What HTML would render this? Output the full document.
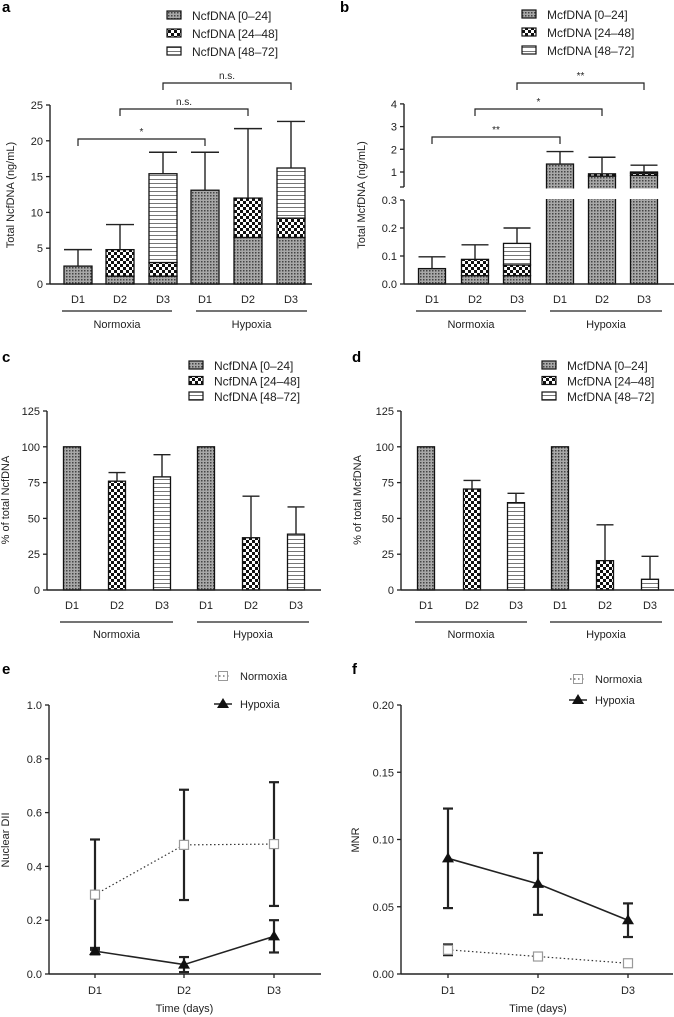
<!DOCTYPE html>
<html><head><meta charset="utf-8"><style>
html,body{margin:0;padding:0;background:#fff;}
svg{display:block;font-family:"Liberation Sans",Arial,sans-serif;}
</style></head><body>
<svg id="fig" width="674" height="1017" viewBox="0 0 674 1017" xmlns="http://www.w3.org/2000/svg">
<defs>
<pattern id="dots" width="3" height="3" patternUnits="userSpaceOnUse"><rect width="3" height="3" fill="#a8a8a8"/><rect width="1.5" height="1.5" fill="#444"/></pattern>
<pattern id="check" width="6" height="6" patternUnits="userSpaceOnUse"><rect width="6" height="6" fill="#fff"/><rect width="3" height="3" fill="#111"/><rect x="3" y="3" width="3" height="3" fill="#111"/></pattern>
<pattern id="lines" width="4" height="4" patternUnits="userSpaceOnUse"><rect width="4" height="4" fill="#fff"/><rect y="3" width="4" height="1" fill="#777"/></pattern>
</defs>
</svg>
<script>
// ---- data ----
const days = ['D1','D2','D3','D1','D2','D3'];
const groups = ['Normoxia','Hypoxia'];
const aSeg0 = [2.5,1.1,1.1,13.1,6.5,6.5];
const aSeg1 = [0,3.7,1.9,0,5.5,2.7];
const aSeg2 = [0,0,12.4,0,0,7.0];
const aErr = [4.8,8.3,18.4,18.4,21.7,22.7];
const aTicks = [0,5,10,15,20,25];
const bSeg0 = [0.055,0.03,0.03,1.35,0.82,0.85];
const bSeg1 = [0,0.058,0.038,0,0.1,0.1];
const bSeg2 = [0,0,0.077,0,0,0.05];
const bErr = [0.097,0.14,0.2,1.9,1.65,1.3];
const bTicksLow = [0.0,0.1,0.2,0.3];
const bTicksHigh = [1,2,3,4];
const cVal = [100,76,79,100,36.5,39];
const cErr = [100,82,94.5,100,65.5,58];
const dVal = [100,70.5,61,100,20.5,7.5];
const dErr = [100,76.5,67.5,100,45.5,23.5];
const pctTicks = [0,25,50,75,100,125];
const pctPat = ['dots','check','lines','dots','check','lines'];
const lineDays = ['D1','D2','D3'];
const eNorm = [0.295,0.48,0.483];
const eNormErr = [0.205,0.205,0.23];
const eHyp = [0.085,0.035,0.14];
const eHypErr = [0.012,0.028,0.06];
const eTicks = [0.0,0.2,0.4,0.6,0.8,1.0];
const fNorm = [0.018,0.013,0.008];
const fNormErr = [0.004,0.001,0.001];
const fHyp = [0.086,0.067,0.04];
const fHypErr = [0.037,0.023,0.0125];
const fTicks = [0.00,0.05,0.10,0.15,0.20];

const NS='http://www.w3.org/2000/svg';
const svg=document.getElementById('fig');
function mk(tag,attrs,parent){const e=document.createElementNS(NS,tag);for(const k in attrs)e.setAttribute(k,attrs[k]);(parent||svg).appendChild(e);return e;}
function txt(s,x,y,size,anchor,parent,extra){const t=mk('text',Object.assign({x:x,y:y,'font-size':size,'text-anchor':anchor||'middle',fill:'#222'},extra||{}),parent);t.textContent=s;return t;}

function panelLabel(p,s,x,y){const t=txt(s,x,y,15,'start',p,{'font-weight':'bold',fill:'#000'});

}

function legendBars(p,x,y0,dy,prefix){
  const pats=['dots','check','lines'],labs=['[0–24]','[24–48]','[48–72]'];
  for(let i=0;i<3;i++){
    const g=mk('g',{},p);
    
    
    mk('rect',{x:x,y:y0+i*dy-9,width:14,height:8,fill:'url(#'+pats[i]+')',stroke:'#111','stroke-width':1.2},g);
    txt(prefix+' '+labs[i],x+25,y0+i*dy,12,'start',g);
  }
}

function yAxis(p,x,ticks,yf,fmt){
  const ax=mk('g',{},p);
  
  
  for(const t of ticks){const y=yf(t);
    mk('line',{x1:x-4,x2:x,y1:y,y2:y,stroke:'#222','stroke-width':1.3},ax);
    const l=txt(fmt(t),x-7,y+4,11,'end',ax);
    
    }
  return ax;
}

function groupAxis(p,xs,yTick,lineY,labY,nLine,hLine){
  for(let i=0;i<xs.length;i++){const l=txt(days[i],xs[i],yTick,11,'middle',p);
    
    }
  const ranges=[nLine,hLine];
  for(let g=0;g<2;g++){
    const ln=mk('line',{x1:ranges[g][0],x2:ranges[g][1],y1:lineY,y2:lineY,stroke:'#222','stroke-width':1.2},p);
    
    
    const t=txt(groups[g],(ranges[g][0]+ranges[g][1])/2,labY,11,'middle',p);
    
    
  }
}

function errBar(p,x,yTop,yEnd,cap){
  const g=mk('g',{},p);
  
  
  mk('line',{x1:x,x2:x,y1:yTop,y2:yEnd,stroke:'#222','stroke-width':1.4},g);
  mk('line',{x1:x-cap,x2:x+cap,y1:yEnd,y2:yEnd,stroke:'#222','stroke-width':1.4},g);
}

function bracket(p,x1,x2,y,label){
  const g=mk('g',{},p);
  
  
  mk('path',{d:`M${x1},${y+7}V${y}H${x2}V${y+7}`,fill:'none',stroke:'#222','stroke-width':1.2},g);
  txt(label,(x1+x2)/2,y-4,10,'middle',g);
}

function stackPanel(p,xs,w,yf,segs,err,namePrefix){
  const pats=['dots','check','lines'];
  for(let i=0;i<xs.length;i++){
    let base=0;
    for(let s=0;s<3;s++){
      const v=segs[s][i]; if(v<=0) continue;
      const yA=yf(base+v), yB=yf(base);
      const r=mk('rect',{x:xs[i]-w/2,y:yA,width:w,height:yB-yA,fill:'url(#'+pats[s]+')',stroke:'#111','stroke-width':1.3},p);
      
      
      base+=v;
    }
    if(err[i]>base) errBar(p,xs[i],yf(base),yf(err[i]),w/2);
  }
}

// ---------- Panel a ----------
(function(){
  const p=mk('g',{});
  
  
  panelLabel(p,'a',2,12);
  legendBars(p,167,20,18,'NcfDNA');
  const ya=v=>284-v*7.16;
  const xs=[78,120,163,205,248,291];
  yAxis(p,50,aTicks,ya,t=>String(t));
  mk('line',{x1:50,x2:50,y1:ya(25),y2:284,stroke:'#222','stroke-width':1.4},p);
  mk('line',{x1:50,x2:312,y1:284,y2:284,stroke:'#222','stroke-width':1.6},p);
  stackPanel(p,xs,28,ya,[aSeg0,aSeg1,aSeg2],aErr,'a');
  groupAxis(p,xs,303,311,328,[62,172],[196,307]);
  bracket(p,xs[0],xs[3],139,'*');
  bracket(p,xs[1],xs[4],109,'n.s.');
  bracket(p,xs[2],xs[5],83,'n.s.');
  const t=txt('Total NcfDNA (ng/mL)',0,0,11,'middle',p,{transform:'translate(14,195) rotate(-90)'});
  
  
})();

// ---------- Panel b ----------
(function(){
  const p=mk('g',{});
  
  
  panelLabel(p,'b',340,12);
  legendBars(p,522,19,18,'McfDNA');
  const yb=v=> v<=0.3 ? 284-v/0.3*84 : Math.min(187,172-(v-1)*22.7);
  const xs=[432,475,517,560,602,644];
  yAxis(p,404,bTicksLow,yb,t=>t.toFixed(1));
  yAxis(p,404,bTicksHigh,yb,t=>String(t));
  mk('line',{x1:404,x2:404,y1:200,y2:284,stroke:'#222','stroke-width':1.4},p);
  mk('line',{x1:404,x2:404,y1:yb(4),y2:187,stroke:'#222','stroke-width':1.4},p);
  mk('line',{x1:400,x2:404,y1:187,y2:187,stroke:'#222','stroke-width':1.3},p);
  stackPanel(p,xs,27,yb,[bSeg0,bSeg1,bSeg2],bErr,'b');
  const gap=mk('rect',{x:406,y:188.5,width:268,height:10.5,fill:'#fff'},p);
  
  
  mk('line',{x1:404,x2:674,y1:284,y2:284,stroke:'#222','stroke-width':1.6},p);
  groupAxis(p,xs,303,311,328,[416,526],[550,662]);
  bracket(p,xs[0],xs[3],137,'**');
  bracket(p,xs[1],xs[4],109,'*');
  bracket(p,xs[2],xs[5],83,'**');
  const t=txt('Total McfDNA (ng/mL)',0,0,11,'middle',p,{transform:'translate(365,195) rotate(-90)'});
  
  
})();

// ---------- Panels c, d ----------
function pctPanel(name,label,lx,ax,xs,vals,errs,prefix,legX,title,titleX,nLine,hLine){
  const p=mk('g',{});
  
  
  panelLabel(p,label,lx,362);
  legendBars(p,legX,370,15.5,prefix);
  const yc=v=>590-v*1.432;
  yAxis(p,ax,pctTicks,yc,t=>String(t));
  mk('line',{x1:ax,x2:ax,y1:yc(125),y2:590,stroke:'#222','stroke-width':1.4},p);
  for(let i=0;i<xs.length;i++){
    const r=mk('rect',{x:xs[i]-8.5,y:yc(vals[i]),width:17,height:590-yc(vals[i]),fill:'url(#'+pctPat[i]+')',stroke:'#111','stroke-width':1.3},p);
    
    
    if(errs[i]>vals[i]) errBar(p,xs[i],yc(vals[i]),yc(errs[i]),8.5);
  }
  mk('line',{x1:ax,x2:Math.min(ax+274,674),y1:590,y2:590,stroke:'#222','stroke-width':1.6},p);
  groupAxis(p,xs,609,622,638,nLine,hLine);
  const t=txt(title,0,0,11,'middle',p,{transform:`translate(${titleX},500) rotate(-90)`});
  
  
}
pctPanel('panel-c','c',2,47,[72,117,162,206,251,296],cVal,cErr,'NcfDNA',189,'% of total NcfDNA',9,[60,173],[197,309]);
pctPanel('panel-d','d',352,401,[426,472,516,560,605,650],dVal,dErr,'McfDNA',542,'% of total McfDNA',361,[415,527],[550,662]);

// ---------- Panels e, f ----------
function linePanel(name,label,lx,ax,xs,ticks,ymax,fmt,norm,normErr,hyp,hypErr,legX,legY1,legY2,title,titleX){
  const p=mk('g',{});
  
  
  panelLabel(p,label,lx,674);
  const yf=v=>974-v/ymax*269;
  yAxis(p,ax,ticks,yf,fmt);
  mk('line',{x1:ax,x2:ax,y1:yf(ymax),y2:974,stroke:'#222','stroke-width':1.4},p);
  mk('line',{x1:ax,x2:Math.min(ax+272,674),y1:974,y2:974,stroke:'#222','stroke-width':1.6},p);
  for(let i=0;i<3;i++){
    mk('line',{x1:xs[i],x2:xs[i],y1:974,y2:978,stroke:'#222','stroke-width':1.3},p);
    const l=txt(lineDays[i],xs[i],994,11,'middle',p);
    
    
  }
  const xt=txt('Time (days)',(xs[0]+xs[2])/2,1012,11,'middle',p);
  
  
  const yt=txt(title,0,0,11,'middle',p,{transform:`translate(${titleX},840) rotate(-90)`});
  
  
  function ebar(x,v,e){const g=mk('g',{},p);
    
    
    const lo=Math.max(0,v-e);
    mk('line',{x1:x,x2:x,y1:yf(v+e),y2:yf(lo),stroke:'#222','stroke-width':2.2},g);
    mk('line',{x1:x-5,x2:x+5,y1:yf(v+e),y2:yf(v+e),stroke:'#222','stroke-width':2.2},g);
    mk('line',{x1:x-5,x2:x+5,y1:yf(lo),y2:yf(lo),stroke:'#222','stroke-width':2.2},g);}
  for(let i=0;i<3;i++){ebar(xs[i],norm[i],normErr[i]);ebar(xs[i],hyp[i],hypErr[i]);}
  const nl=mk('polyline',{points:xs.map((x,i)=>x+','+yf(norm[i])).join(' '),fill:'none',stroke:'#333','stroke-width':1.2,'stroke-dasharray':'1.5 2.5'},p);
  
  
  const hl=mk('polyline',{points:xs.map((x,i)=>x+','+yf(hyp[i])).join(' '),fill:'none',stroke:'#222','stroke-width':1.6},p);
  
  
  for(let i=0;i<3;i++){
    const s=mk('rect',{x:xs[i]-4.5,y:yf(norm[i])-4.5,width:9,height:9,fill:'#fff',stroke:'#999','stroke-width':1.2},p);
    
    
    const y=yf(hyp[i]);
    const tr=mk('path',{d:`M${xs[i]},${y-6}L${xs[i]+6},${y+4}L${xs[i]-6},${y+4}Z`,fill:'#111'},p);
    
    
  }
  const g1=mk('g',{},p);
  
  
  mk('line',{x1:legX-8,x2:legX+8,y1:legY1,y2:legY1,stroke:'#333','stroke-dasharray':'1.5 2.5'},g1);
  mk('rect',{x:legX-4.5,y:legY1-4.5,width:9,height:9,fill:'none',stroke:'#999'},g1);
  txt('Normoxia',legX+17,legY1+4,11,'start',g1);
  const g2=mk('g',{},p);
  
  
  mk('line',{x1:legX-9,x2:legX+9,y1:legY2,y2:legY2,stroke:'#222','stroke-width':1.6},g2);
  mk('path',{d:`M${legX},${legY2-6}L${legX+6},${legY2+4}L${legX-6},${legY2+4}Z`,fill:'#111'},g2);
  txt('Hypoxia',legX+17,legY2+4,11,'start',g2);
}
linePanel('panel-e','e',2,49,[95,184,274],eTicks,1.0,t=>t.toFixed(1),eNorm,eNormErr,eHyp,eHypErr,223,676,704,'Nuclear DII',9);
linePanel('panel-f','f',352,401,[448,538,628],fTicks,0.20,t=>t.toFixed(2),fNorm,fNormErr,fHyp,fHypErr,578,679,700,'MNR',359);
</script>
</body></html>
